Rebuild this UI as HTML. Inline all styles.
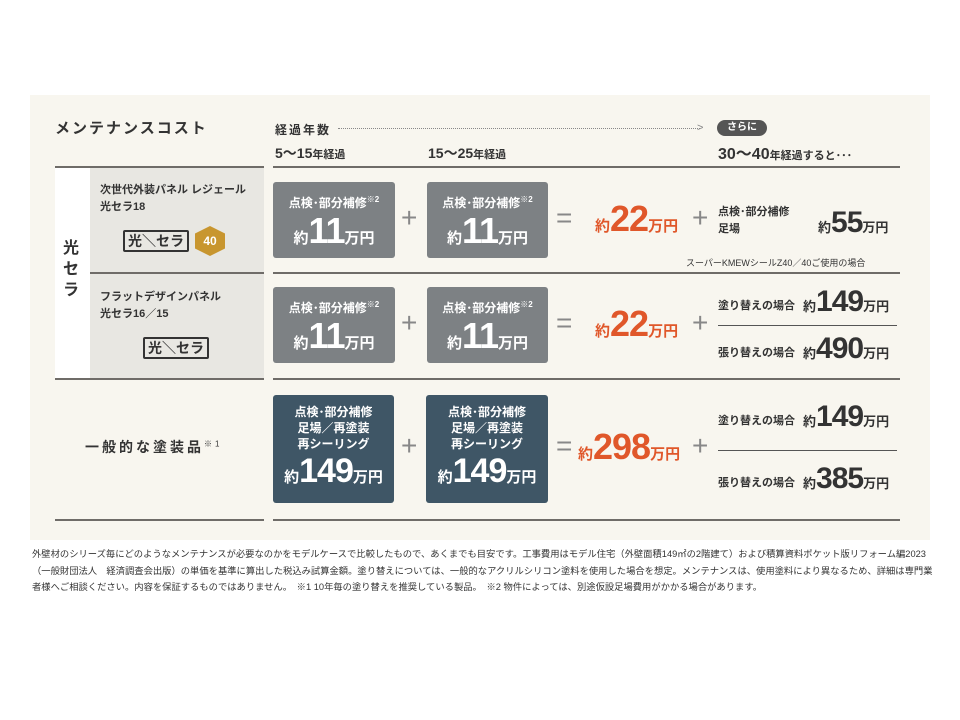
<!DOCTYPE html>
<html><head><meta charset="utf-8"><style>
body{margin:0;width:960px;height:720px;background:#fff;position:relative;overflow:hidden;font-family:"Liberation Sans","Noto Sans CJK JP",sans-serif;color:#333;}
.a{position:absolute;white-space:nowrap;}
.bg{left:30px;top:95px;width:900px;height:445px;background:#f8f6ef;}
.ln{position:absolute;height:2px;background:#6f6c68;}
.b{position:absolute;border-radius:3px;color:#fff;text-align:center;font-weight:bold;}
.g{background:#7d8184;}
.d{background:#3f5666;}
.t{font-size:12px;font-weight:bold;}
.big{font-size:30px;font-weight:bold;letter-spacing:-1px;}
.bx{font-size:36px;font-weight:bold;letter-spacing:-1px;line-height:40px;}
.bo{font-size:34px;font-weight:bold;letter-spacing:-1px;}
.sm{font-size:13px;font-weight:bold;}
.sm2{font-size:15px;font-weight:bold;}
.or{color:#e0572a;}
.sym{font-size:28px;color:#888;}
.logo{position:absolute;border:2px solid #333;border-radius:2px;font-size:14px;font-weight:bold;padding:0 3px;line-height:18px;background:#fff0;}
</style></head><body>
<div class="a bg"></div>
<div class="a" style="left:55px;top:167px;width:35px;height:211px;background:#fff;"></div>
<div class="a" style="left:90px;top:167px;width:174px;height:211px;background:#e8e7e2;"></div>
<div class="ln" style="left:55px;top:166px;width:209px;"></div>
<div class="ln" style="left:273px;top:166px;width:627px;"></div>
<div class="ln" style="left:90px;top:272px;width:174px;"></div>
<div class="ln" style="left:273px;top:272px;width:627px;"></div>
<div class="ln" style="left:55px;top:378px;width:209px;"></div>
<div class="ln" style="left:273px;top:378px;width:627px;"></div>
<div class="ln" style="left:55px;top:519px;width:209px;"></div>
<div class="ln" style="left:273px;top:519px;width:627px;"></div>

<div class="a" style="left:55px;top:117px;font-size:15px;font-weight:bold;letter-spacing:2px;">メンテナンスコスト</div>
<div class="a" style="left:275px;top:121px;font-size:12px;font-weight:bold;letter-spacing:2px;">経過年数</div>
<div class="a" style="left:338px;top:128px;width:362px;border-top:1px dotted #888;"></div>
<div class="a" style="left:697px;top:122px;font-size:11px;color:#888;">&gt;</div>
<div class="a" style="left:717px;top:120px;width:50px;height:16px;border-radius:8px;background:#555;color:#fff;font-size:10px;text-align:center;line-height:16px;font-weight:bold;">さらに</div>
<div class="a" style="left:275px;top:143px;font-size:14px;font-weight:bold;">5〜15<span style="font-size:11px">年経過</span></div>
<div class="a" style="left:428px;top:143px;font-size:14px;font-weight:bold;">15〜25<span style="font-size:11px">年経過</span></div>
<div class="a" style="left:718px;top:140px;font-size:16px;font-weight:bold;">30〜40<span style="font-size:11px">年経過すると･･･</span></div>

<div class="a" style="left:63px;top:238px;font-size:16px;font-weight:bold;line-height:21px;width:18px;">光<br>セ<br>ラ</div>
<div class="a" style="left:100px;top:182px;font-size:11px;font-weight:bold;line-height:17px;">次世代外装パネル レジェール<br>光セラ18</div>
<div class="logo" style="left:123px;top:230px;">光＼セラ</div>
<div class="a" style="left:195px;top:226px;width:30px;height:30px;background:#c8962f;clip-path:polygon(50% 0,100% 25%,100% 75%,50% 100%,0 75%,0 25%);color:#fff;font-size:12px;font-weight:bold;text-align:center;line-height:30px;">40</div>
<div class="a" style="left:100px;top:289px;font-size:11px;font-weight:bold;line-height:17px;">フラットデザインパネル<br>光セラ16／15</div>
<div class="logo" style="left:143px;top:337px;">光＼セラ</div>
<div class="a" style="left:85px;top:437px;font-size:14px;font-weight:bold;letter-spacing:3px;">一般的な塗装品<sup style="font-size:8px;font-weight:normal">※1</sup></div>

<div class="b g" style="left:273px;top:182px;width:122px;height:76px;"><div class="t" style="margin-top:12px">点検･部分補修<sup style="font-size:8px">※2</sup></div><div><span class="sm2">約</span><span class="bx">11</span><span class="sm2">万円</span></div></div>
<div class="b g" style="left:427px;top:182px;width:121px;height:76px;"><div class="t" style="margin-top:12px">点検･部分補修<sup style="font-size:8px">※2</sup></div><div><span class="sm2">約</span><span class="bx">11</span><span class="sm2">万円</span></div></div>
<div class="b g" style="left:273px;top:287px;width:122px;height:76px;"><div class="t" style="margin-top:12px">点検･部分補修<sup style="font-size:8px">※2</sup></div><div><span class="sm2">約</span><span class="bx">11</span><span class="sm2">万円</span></div></div>
<div class="b g" style="left:427px;top:287px;width:121px;height:76px;"><div class="t" style="margin-top:12px">点検･部分補修<sup style="font-size:8px">※2</sup></div><div><span class="sm2">約</span><span class="bx">11</span><span class="sm2">万円</span></div></div>
<div class="b d" style="left:273px;top:395px;width:121px;height:108px;"><div class="t" style="margin-top:9px;line-height:16px">点検･部分補修<br>足場／再塗装<br>再シーリング</div><div><span class="sm2">約</span><span class="bo">149</span><span class="sm2">万円</span></div></div>
<div class="b d" style="left:426px;top:395px;width:122px;height:108px;"><div class="t" style="margin-top:9px;line-height:16px">点検･部分補修<br>足場／再塗装<br>再シーリング</div><div><span class="sm2">約</span><span class="bo">149</span><span class="sm2">万円</span></div></div>

<div class="a sym" style="left:401px;top:202px;">+</div>
<div class="a sym" style="left:401px;top:307px;">+</div>
<div class="a sym" style="left:401px;top:430px;">+</div>
<div class="a sym" style="left:556px;top:202px;">=</div>
<div class="a sym" style="left:556px;top:307px;">=</div>
<div class="a sym" style="left:556px;top:430px;">=</div>
<div class="a sym" style="left:692px;top:202px;">+</div>
<div class="a sym" style="left:692px;top:307px;">+</div>
<div class="a sym" style="left:692px;top:430px;">+</div>

<div class="a or" style="left:595px;top:199px;"><span class="sm2">約</span><span class="bx">22</span><span class="sm2">万円</span></div>
<div class="a or" style="left:595px;top:304px;"><span class="sm2">約</span><span class="bx">22</span><span class="sm2">万円</span></div>
<div class="a or" style="left:578px;top:427px;"><span class="sm2">約</span><span class="bx">298</span><span class="sm2">万円</span></div>

<div class="a" style="left:718px;top:204px;font-size:11px;font-weight:bold;line-height:17px;">点検･部分補修<br>足場</div>
<div class="a" style="left:818px;top:206px;"><span class="sm">約</span><span class="big">55</span><span class="sm">万円</span></div>
<div class="a" style="left:686px;top:256px;font-size:9px;">スーパーKMEWシールZ40／40ご使用の場合</div>

<div class="a" style="left:718px;top:297px;font-size:11px;font-weight:bold;">塗り替えの場合</div>
<div class="a" style="left:803px;top:285px;"><span class="sm">約</span><span class="big">149</span><span class="sm">万円</span></div>
<div class="a" style="left:718px;top:325px;width:179px;height:1px;background:#555;"></div>
<div class="a" style="left:718px;top:344px;font-size:11px;font-weight:bold;">張り替えの場合</div>
<div class="a" style="left:803px;top:332px;"><span class="sm">約</span><span class="big">490</span><span class="sm">万円</span></div>

<div class="a" style="left:718px;top:412px;font-size:11px;font-weight:bold;">塗り替えの場合</div>
<div class="a" style="left:803px;top:400px;"><span class="sm">約</span><span class="big">149</span><span class="sm">万円</span></div>
<div class="a" style="left:718px;top:450px;width:179px;height:1px;background:#555;"></div>
<div class="a" style="left:718px;top:474px;font-size:11px;font-weight:bold;">張り替えの場合</div>
<div class="a" style="left:803px;top:462px;"><span class="sm">約</span><span class="big">385</span><span class="sm">万円</span></div>

<div class="a" style="left:32px;top:546px;font-size:9.3px;line-height:16.5px;color:#333;">外壁材のシリーズ毎にどのようなメンテナンスが必要なのかをモデルケースで比較したもので、あくまでも目安です。工事費用はモデル住宅（外壁面積149㎡の2階建て）および積算資料ポケット版リフォーム編2023<br>（一般財団法人　経済調査会出版）の単価を基準に算出した税込み試算金額。塗り替えについては、一般的なアクリルシリコン塗料を使用した場合を想定。メンテナンスは、使用塗料により異なるため、詳細は専門業<br>者様へご相談ください。内容を保証するものではありません。　※1 10年毎の塗り替えを推奨している製品。　※2 物件によっては、別途仮設足場費用がかかる場合があります。</div>
</body></html>
